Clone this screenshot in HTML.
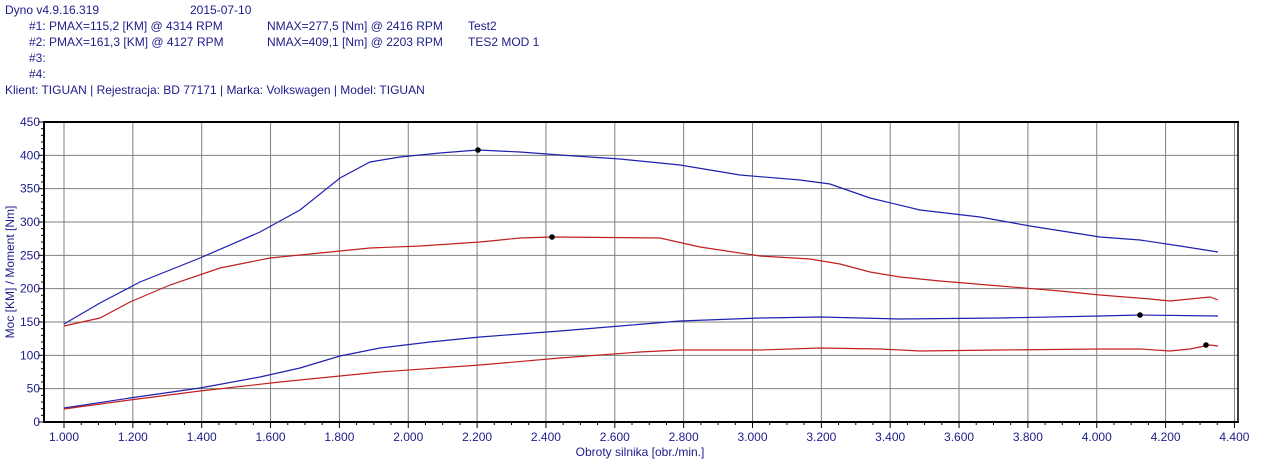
<!DOCTYPE html><html><head><style>body{margin:0;background:#fff}svg{display:block}text{font-family:"Liberation Sans",Arial,sans-serif;fill:#1c1c8a;font-size:12px}</style></head><body>
<svg width="1264" height="468" xmlns="http://www.w3.org/2000/svg">
<text x="5" y="14">Dyno v4.9.16.319</text><text x="190" y="14">2015-07-10</text>
<text x="29" y="30">#1: PMAX=115,2 [KM] @ 4314 RPM</text><text x="267" y="30">NMAX=277,5 [Nm] @ 2416 RPM</text><text x="468" y="30">Test2</text>
<text x="29" y="46">#2: PMAX=161,3 [KM] @ 4127 RPM</text><text x="267" y="46">NMAX=409,1 [Nm] @ 2203 RPM</text><text x="468" y="46">TES2 MOD 1</text>
<text x="29" y="62">#3:</text><text x="29" y="78">#4:</text>
<text x="5" y="94">Klient: TIGUAN | Rejestracja: BD 77171 | Marka: Volkswagen | Model: TIGUAN</text>
<g stroke="#808080" stroke-width="1" id="grid"></g>
<g id="ax"></g>
<polyline fill="none" stroke="#2020b0" stroke-width="1.2" points="64,324 100,303 140,282 200,258 260,232 300,210 340,178 370,162 400,157 440,153 478,150 520,152 560,155 620,159 680,165 740,175 800,180 830,184 870,198 920,210 980,217 1030,226 1100,237 1140,240 1180,246 1218,252"/>
<polyline fill="none" stroke="#c02020" stroke-width="1.2" points="64,326 100,318 130,302 170,285 220,268 270,258 320,253 370,248 420,246 480,242 520,238 552,237 660,238 700,247 760,256 810,259 840,264 870,272 900,277 940,281 1000,286 1060,291 1100,295 1150,299 1170,301 1190,299 1210,297 1218,300"/>
<polyline fill="none" stroke="#2020b0" stroke-width="1.2" points="64,408 130,398 200,388 260,377 300,368 340,356 380,348 430,342 480,337 560,331 620,326 680,321 760,318 820,317 900,319 1000,318 1100,316 1140,315 1218,316"/>
<polyline fill="none" stroke="#c02020" stroke-width="1.2" points="64,409 130,400 200,391 280,382 380,372 480,365 560,358 640,352 680,350 760,350 820,348 880,349 920,351 1000,350 1100,349 1140,349 1170,351 1190,349 1210,345 1218,346"/>
<g fill="#000"><circle cx="478" cy="150" r="2.8"/><circle cx="552" cy="237" r="2.8"/><circle cx="1140" cy="315" r="2.8"/><circle cx="1206" cy="345" r="2.8"/></g>
<text x="640" y="456" text-anchor="middle">Obroty silnika [obr./min.]</text>
<text transform="translate(14,272) rotate(-90)" text-anchor="middle">Moc [KM] / Moment [Nm]</text>
</svg>
<script>
var ns="http://www.w3.org/2000/svg",g=document.getElementById("grid"),a=document.getElementById("ax"),s=document.querySelector("svg");
function el(p,t,at,tx){var e=document.createElementNS(ns,t);for(var k in at)e.setAttribute(k,at[k]);if(tx)e.textContent=tx;p.appendChild(e);return e}
for(var i=0;i<=9;i++){var y=422-i*33.333;if(i>0&&i<9)el(g,"line",{x1:44,x2:1238,y1:y,y2:y});el(s,"text",{x:40,y:y+4,"text-anchor":"end"},String(i*50));
 el(a,"line",{x1:38,x2:44,y1:y,y2:y,stroke:"#000"});if(i<9)for(var j=1;j<5;j++){var yy=y-j*6.667;el(a,"line",{x1:41,x2:44,y1:yy,y2:yy,stroke:"#000"})}}
for(var k=0;k<=17;k++){var x=64+k*68.85;el(g,"line",{x1:x,x2:x,y1:122,y2:422});el(s,"text",{x:x,y:441,"text-anchor":"middle"},(1+k*0.2).toFixed(3).replace(/(\d)\.(\d{3})/,"$1.$2").replace(/^(\d)\.(\d)(\d\d)$/,"$1.$2$3"));
 el(a,"line",{x1:x,x2:x,y1:422,y2:428,stroke:"#000"});if(k<17)for(var j=1;j<4;j++){var xx=x+j*17.21;el(a,"line",{x1:xx,x2:xx,y1:422,y2:425,stroke:"#000"})}}
el(a,"line",{x1:44,x2:44,y1:121,y2:423,stroke:"#000","stroke-width":2});
el(a,"line",{x1:43,x2:1239,y1:422,y2:422,stroke:"#000","stroke-width":2});
el(a,"line",{x1:43,x2:1239,y1:122,y2:122,stroke:"#000","stroke-width":2});
el(a,"line",{x1:1238,x2:1238,y1:121,y2:423,stroke:"#000","stroke-width":1.5});
</script>
</body></html>
